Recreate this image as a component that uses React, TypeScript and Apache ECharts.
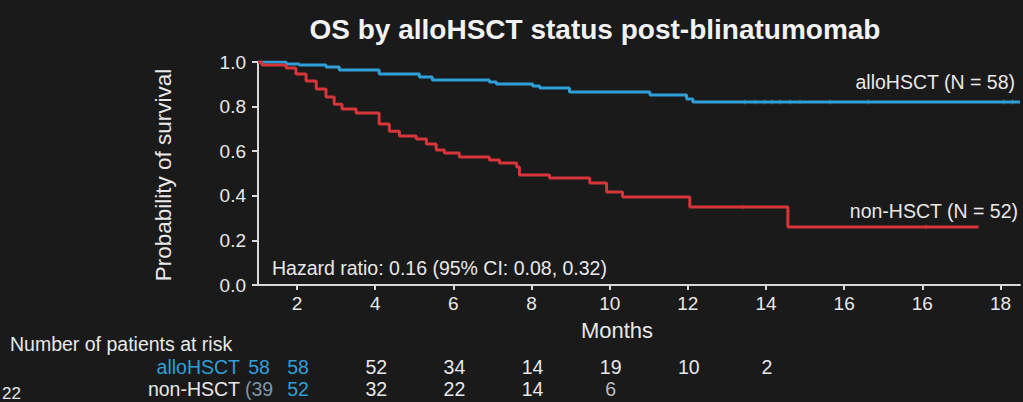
import { useEffect, useRef } from "react";
import * as echarts from "echarts";

// Axis ticks (positions on the time axis) and their printed labels
const xTickValues = [2, 4, 6, 8, 10, 12, 14, 16, 18, 20];
const xTickLabels = ["2", "4", "6", "8", "10", "12", "14", "16", "16", "18"];

// Kaplan–Meier curves: time (axis units) and survival probability
const alloTimes = [1.0, 1.72, 2.05, 2.74, 3.08, 4.1, 5.13, 5.46, 6.92, 7.1, 8.03, 8.21, 8.97, 11.03, 11.97, 12.13, 20.5];
const alloSurv = [1.0, 0.991, 0.987, 0.978, 0.964, 0.946, 0.933, 0.919, 0.91, 0.901, 0.892, 0.883, 0.865, 0.852, 0.834, 0.821, 0.821];

const nonTimes = [1.0, 1.1, 1.72, 1.97, 2.23, 2.49, 2.74, 2.95, 3.15, 3.51, 4.1, 4.36, 4.62, 5.05, 5.31, 5.56, 5.77, 6.15, 6.92, 7.18, 7.62, 7.69, 8.46, 9.49, 9.92, 10.33, 12.05, 14.56, 19.44];
const nonSurv = [1.0, 0.987, 0.973, 0.946, 0.915, 0.879, 0.843, 0.81, 0.789, 0.771, 0.722, 0.69, 0.668, 0.655, 0.632, 0.605, 0.592, 0.574, 0.56, 0.547, 0.529, 0.493, 0.48, 0.457, 0.417, 0.395, 0.35, 0.26, 0.26];

// Censor marks
const alloCensor = [13.46, 13.72, 13.97, 14.15, 14.36, 14.62, 14.87, 15.64, 16.62, 20.08, 20.31];
const nonCensor = [13.41, 18.1];

// Number at risk table
const riskTimes = [1, 2, 4, 6, 8, 10, 12, 14];
const alloRisk = ["58", "58", "52", "34", "14", "19", "10", "2"];
const nonRisk = ["(39", "52", "32", "22", "14", "6"];

const BLUE = "#2f9fd8";
const RED = "#d8353a";
const TEXT = "#e8e8e8";
const FONT = "'Liberation Sans', Arial, Helvetica, sans-serif";

function survAt(times: number[], surv: number[], t: number) {
  let s = surv[0];
  for (let i = 0; i < times.length; i++) if (times[i] <= t) s = surv[i];
  return s;
}

export default function App() {
  const ref = useRef<HTMLDivElement>(null);
  useEffect(() => {
    if (!ref.current) return;
    const chart = echarts.init(ref.current, null, { renderer: "svg" });
    const option: any = {
      animation: false,
      backgroundColor: "#1a1a1a",
      title: {
        text: "OS by alloHSCT status post-blinatumomab",
        left: 590,
        top: 10,
        textAlign: "center",
        textStyle: { color: "#f2f2f2", fontSize: 28, fontWeight: "bold", fontFamily: FONT },
      },
      grid: { left: 258, right: 3, top: 62, bottom: 117 },
      xAxis: {
        type: "value",
        min: 1,
        max: 20.5,
        splitLine: { show: false },
        axisLine: { show: true, lineStyle: { color: "#d8d8d8", width: 2 } },
        axisTick: { show: true, customValues: xTickValues, length: 5, lineStyle: { color: "#d8d8d8", width: 2 } },
        axisLabel: {
          customValues: xTickValues,
          margin: 9,
          color: TEXT,
          fontSize: 19,
          fontFamily: FONT,
          formatter: (v: number) => {
            const i = xTickValues.indexOf(v);
            return i >= 0 ? xTickLabels[i] : "";
          },
        },
      },
      yAxis: {
        type: "value",
        min: 0,
        max: 1,
        interval: 0.2,
        splitLine: { show: false },
        axisLine: { show: true, lineStyle: { color: "#d8d8d8", width: 2 } },
        axisTick: { show: true, length: 6, lineStyle: { color: "#d8d8d8", width: 2 } },
        axisLabel: {
          margin: 12,
          color: TEXT,
          fontSize: 19,
          fontFamily: FONT,
          formatter: (v: number) => v.toFixed(1),
        },
      },
      series: [
        {
          type: "line",
          name: "alloHSCT",
          step: "end",
          symbol: "none",
          data: alloTimes.map((t, i) => [t, alloSurv[i]]),
          lineStyle: { color: BLUE, width: 3 },
        },
        {
          type: "line",
          name: "non-HSCT",
          step: "end",
          symbol: "none",
          data: nonTimes.map((t, i) => [t, nonSurv[i]]),
          lineStyle: { color: RED, width: 3 },
        },
        {
          type: "scatter",
          symbol: "rect",
          symbolSize: [1, 5],
          itemStyle: { color: BLUE, opacity: 0.7 },
          data: alloCensor.map((t) => [t, survAt(alloTimes, alloSurv, t)]),
        },
        {
          type: "scatter",
          symbol: "rect",
          symbolSize: [1, 5],
          itemStyle: { color: RED, opacity: 0.7 },
          data: nonCensor.map((t) => [t, survAt(nonTimes, nonSurv, t)]),
        },
      ],
    };
    chart.setOption(option);

    const px = (t: number) => chart.convertToPixel({ xAxisIndex: 0 }, t) as number;
    const txt = (x: number, y: number, text: string, fill: string, size: number, align = "center", extra: any = {}) => ({
      type: "text",
      x,
      y,
      silent: true,
      style: { text, fill, fontSize: size, fontFamily: FONT, align, verticalAlign: "middle", ...extra },
    });

    const graphics: any[] = [
      {
        type: "text",
        x: 163,
        y: 175,
        rotation: Math.PI / 2,
        silent: true,
        style: { text: "Probability of survival", fill: TEXT, fontSize: 22.5, fontFamily: FONT, align: "center", verticalAlign: "middle" },
      },
      txt(617, 330, "Months", TEXT, 22),
      txt(1015, 82, "alloHSCT (N = 58)", TEXT, 19.5, "right"),
      txt(1018, 211, "non-HSCT (N = 52)", TEXT, 19.5, "right"),
      txt(272, 268, "Hazard ratio: 0.16 (95% CI: 0.08, 0.32)", TEXT, 19.5, "left"),
      txt(10, 344, "Number of patients at risk", TEXT, 19.5, "left"),
      txt(240, 367, "alloHSCT", BLUE, 19.5, "right"),
      txt(240, 389, "non-HSCT", TEXT, 19.5, "right"),
      txt(2, 393, "22", TEXT, 17, "left"),
    ];
    alloRisk.forEach((v, i) => {
      const c = i < 2 ? BLUE : TEXT;
      graphics.push(txt(px(riskTimes[i]) + 1, 367, v, c, 19.5));
    });
    nonRisk.forEach((v, i) => {
      const c = i === 0 ? "#7d96a8" : i === 1 ? BLUE : i === 5 ? "#bdbdbd" : TEXT;
      graphics.push(txt(px(riskTimes[i]) + 1, 389, v, c, 19.5));
    });
    chart.setOption({ graphic: graphics });

    return () => chart.dispose();
  }, []);

  return (
    <div
      ref={ref}
      style={{ position: "fixed", left: 0, top: 0, width: 1023, height: 402, background: "#1a1a1a" }}
    />
  );
}
